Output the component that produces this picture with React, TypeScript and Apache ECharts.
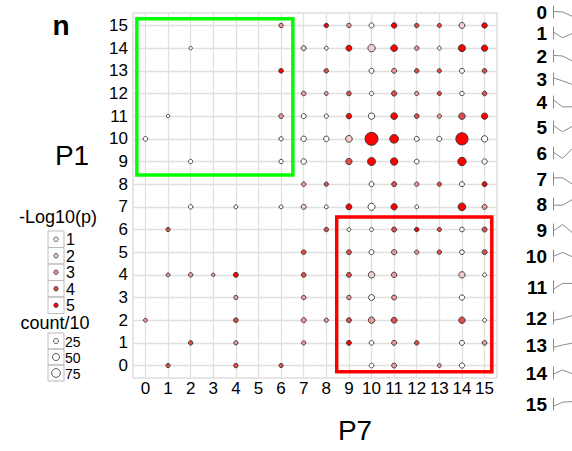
import React, { useEffect, useRef } from "react";
import * as echarts from "echarts";

// ---- data ----
const tickValues = [0, 1, 2, 3, 4, 5, 6, 7, 8, 9, 10, 11, 12, 13, 14, 15];
// each point: [P7 (x), -log10(p) level, count/10]
const row15 = [[6, 3, 20], [8, 5, 20], [9, 3, 20], [10, 1, 25], [11, 5, 30], [12, 4, 20], [13, 4, 18], [14, 2, 35], [15, 5, 30]];
const row14 = [[2, 1, 12], [7, 2, 25], [8, 1, 15], [9, 5, 35], [10, 2, 55], [11, 5, 45], [12, 3, 20], [13, 1, 15], [14, 5, 50], [15, 5, 40]];
const row13 = [[6, 5, 22], [8, 4, 20], [10, 1, 25], [11, 3, 25], [12, 4, 20], [13, 4, 18], [14, 1, 25], [15, 4, 22]];
const row12 = [[7, 3, 22], [8, 3, 15], [9, 4, 22], [10, 1, 18], [11, 4, 28], [12, 3, 18], [13, 4, 18], [14, 1, 20], [15, 4, 22]];
const row11 = [[1, 1, 12], [6, 3, 22], [7, 1, 25], [8, 1, 18], [9, 5, 30], [10, 1, 40], [11, 5, 45], [12, 4, 22], [13, 3, 18], [14, 4, 42], [15, 5, 40]];
const row10 = [[0, 1, 22], [6, 1, 18], [7, 1, 30], [8, 1, 30], [9, 2, 45], [10, 5, 169], [11, 5, 75], [12, 1, 25], [13, 1, 25], [14, 5, 150], [15, 1, 40]];
const row9 = [[2, 1, 18], [6, 1, 18], [7, 1, 30], [9, 4, 40], [10, 5, 65], [11, 5, 55], [12, 1, 22], [14, 5, 70], [15, 1, 28]];
const row8 = [[7, 3, 20], [8, 4, 18], [10, 1, 25], [11, 4, 25], [12, 3, 20], [13, 4, 18], [14, 1, 25], [15, 5, 25]];
const row7 = [[2, 1, 20], [4, 1, 15], [6, 1, 15], [7, 2, 25], [8, 1, 15], [9, 5, 35], [10, 1, 50], [11, 5, 40], [12, 1, 15], [14, 5, 60], [15, 3, 25]];
const row6 = [[1, 4, 18], [8, 4, 20], [9, 1, 15], [10, 1, 15], [11, 4, 25], [12, 5, 20], [13, 4, 18], [14, 1, 22], [15, 4, 25]];
const row5 = [[7, 4, 22], [9, 4, 25], [10, 1, 25], [11, 3, 28], [12, 3, 18], [13, 4, 20], [14, 1, 22], [15, 4, 25]];
const row4 = [[1, 3, 15], [2, 3, 20], [3, 3, 12], [4, 5, 25], [7, 4, 22], [9, 4, 25], [10, 2, 42], [11, 3, 30], [14, 2, 40], [15, 1, 15]];
const row3 = [[4, 3, 18], [7, 3, 20], [9, 3, 20], [10, 1, 35], [11, 3, 25], [14, 1, 28]];
const row2 = [[0, 3, 15], [4, 4, 22], [7, 3, 25], [8, 3, 18], [9, 4, 25], [10, 3, 42], [11, 4, 35], [14, 4, 42], [15, 1, 15]];
const row1 = [[2, 4, 20], [4, 3, 18], [7, 3, 18], [9, 5, 25], [10, 1, 22], [11, 3, 25], [12, 4, 20], [14, 1, 25], [15, 3, 22]];
const row0 = [[1, 4, 18], [4, 4, 20], [6, 4, 18], [10, 1, 22], [11, 3, 25], [13, 3, 15], [14, 1, 28]];
const rows = [row0, row1, row2, row3, row4, row5, row6, row7, row8, row9, row10, row11, row12, row13, row14, row15];

const pLevels = [1, 2, 3, 4, 5];
const countLevels = [25, 50, 75];
// highlighted boxes: [xMin, yMax, xMax, yMin]
const greenBox = [-0.38, 15.3, 6.52, 8.4];
const redBox = [8.46, 6.55, 15.32, -0.27];

// pattern icons (right side), three time points each
const iconLabels = ["0", "1", "2", "3", "4", "5", "6", "7", "8", "9", "10", "11", "12", "13", "14", "15"];
const iconValues = [
  [0.55, 0.5, 0.15], [0.6, 0.1, 0.45], [0.55, 0.5, 0.1], [0.6, 0.35, 0.05],
  [0.7, 0.1, 0.1], [0.65, 0.1, 0.55], [0.6, 0.05, 0.85], [0.6, 0.6, 0.1],
  [0.4, 0.4, 0.85], [0.4, 0.95, 0.3], [0.45, 0.8, 0.45], [0.3, 0.8, 0.8],
  [0.3, 0.45, 0.7], [0.3, 0.5, 0.65], [0.4, 0.75, 0.45], [0.3, 0.65, 0.7],
];

// ---- styles / layout ----
const pColors = ["#ffffff", "#f3cccc", "#ee9999", "#e34c4c", "#ff0000"];
const FONT = "Liberation Sans, Arial, sans-serif";
const iconCenters = [12, 33, 56, 79, 102, 127, 153, 179, 204, 230, 256, 287, 318, 345, 373, 404];
const sizeOf = (c: number) => Math.sqrt(c);

export default function App() {
  const ref = useRef<HTMLDivElement>(null);
  useEffect(() => {
    if (!ref.current) return;
    const chart = echarts.init(ref.current, null, { renderer: "svg" });

    const points: number[][] = [];
    rows.forEach((row, y) => row.forEach(([x, p, c]) => points.push([x, y, p, c])));

    const grids: any[] = [
      { left: 133, top: 13, width: 364, height: 365, show: true, borderColor: "#cccccc", borderWidth: 1, backgroundColor: "transparent" },
    ];
    const xAxes: any[] = [
      {
        type: "value", gridIndex: 0, min: -0.55, max: 15.55,
        axisLine: { show: false },
        axisTick: { show: true, customValues: tickValues, length: 4, lineStyle: { color: "#999" } },
        axisLabel: { customValues: tickValues, fontSize: 17, color: "#000", margin: 2, fontFamily: FONT },
        splitLine: { show: false },
      },
    ];
    const yAxes: any[] = [
      {
        type: "value", gridIndex: 0, min: -0.55, max: 15.55,
        axisLine: { show: false },
        axisTick: { show: true, customValues: tickValues, length: 4, lineStyle: { color: "#999" } },
        axisLabel: { customValues: tickValues, fontSize: 17, color: "#000", margin: 5, fontFamily: FONT },
        splitLine: { show: false },
      },
    ];
    const series: any[] = [
      {
        type: "scatter", xAxisIndex: 0, yAxisIndex: 0, data: [], z: 1,
        markLine: {
          silent: true, z: 1, symbol: ["none", "none"], label: { show: false },
          lineStyle: { color: "#e0e0e0", type: "solid", width: 1.3 },
          emphasis: { disabled: true },
          data: [
            ...tickValues.map((v) => ({ xAxis: v })),
            ...tickValues.map((v) => ({ yAxis: v })),
          ],
        },
      },
      {
        type: "scatter", xAxisIndex: 0, yAxisIndex: 0, z: 3, clip: false,
        data: points,
        symbolSize: (v: number[]) => sizeOf(v[3]),
        itemStyle: {
          color: (p: any) => pColors[p.data[2] - 1],
          borderColor: "#333",
          borderWidth: 0.9,
          opacity: 1,
        },
      },
      {
        type: "scatter", xAxisIndex: 0, yAxisIndex: 0, data: [], z: 5,
        markArea: {
          silent: true, z: 5,
          data: [
            [
              { coord: [greenBox[0], greenBox[1]], itemStyle: { color: "rgba(0,0,0,0)", borderColor: "#00ff00", borderWidth: 3.5 } },
              { coord: [greenBox[2], greenBox[3]] },
            ],
            [
              { coord: [redBox[0], redBox[1]], itemStyle: { color: "rgba(0,0,0,0)", borderColor: "#ff0000", borderWidth: 3.5 } },
              { coord: [redBox[2], redBox[3]] },
            ],
          ],
        },
      },
    ];

    iconValues.forEach((vals, i) => {
      const gi = i + 1;
      grids.push({ left: 553, top: iconCenters[i] - 6, width: 24, height: 12 });
      xAxes.push({ type: "value", gridIndex: gi, min: 0, max: 2, show: false });
      yAxes.push({
        type: "value", gridIndex: gi, min: 0, max: 1,
        axisLine: { show: true, lineStyle: { color: "#8a8a8a", width: 1 } },
        axisTick: { show: false }, axisLabel: { show: false }, splitLine: { show: false },
      });
      series.push({
        type: "line", xAxisIndex: gi, yAxisIndex: gi, showSymbol: false, silent: true,
        data: vals.map((v, k) => [k, v]),
        lineStyle: { color: "#8a8a8a", width: 1 },
      });
    });

    const graphic: any[] = [
      { type: "text", x: 61, y: 25, style: { text: "n", font: `bold 28px ${FONT}`, fill: "#000", textAlign: "center", textVerticalAlign: "middle" } },
      { type: "text", x: 72, y: 155, style: { text: "P1", font: `28px ${FONT}`, fill: "#000", textAlign: "center", textVerticalAlign: "middle" } },
      { type: "text", x: 355, y: 430, style: { text: "P7", font: `28px ${FONT}`, fill: "#000", textAlign: "center", textVerticalAlign: "middle" } },
      { type: "text", x: 58, y: 217, style: { text: "-Log10(p)", font: `18px ${FONT}`, fill: "#000", textAlign: "center", textVerticalAlign: "middle" } },
      { type: "text", x: 55, y: 323, style: { text: "count/10", font: `18px ${FONT}`, fill: "#000", textAlign: "center", textVerticalAlign: "middle" } },
    ];
    pLevels.forEach((p, i) => {
      const y0 = 231 + i * 16.5;
      graphic.push({ type: "rect", shape: { x: 48, y: y0, width: 16, height: 16.5 }, style: { fill: "none", stroke: "#bbbbbb", lineWidth: 1 } });
      graphic.push({ type: "circle", shape: { cx: 56, cy: y0 + 8.25, r: 2.2 }, style: { fill: pColors[i], stroke: "#333", lineWidth: 0.8 } });
      graphic.push({ type: "text", x: 66, y: y0 + 8.5, style: { text: String(p), font: `16px ${FONT}`, fill: "#000", textAlign: "left", textVerticalAlign: "middle" } });
    });
    countLevels.forEach((c, i) => {
      const y0 = 333 + i * 16;
      graphic.push({ type: "rect", shape: { x: 48, y: y0, width: 16, height: 16 }, style: { fill: "none", stroke: "#bbbbbb", lineWidth: 1 } });
      graphic.push({ type: "circle", shape: { cx: 56, cy: y0 + 8, r: sizeOf(c) / 2 }, style: { fill: "#fff", stroke: "#333", lineWidth: 0.8 } });
      graphic.push({ type: "text", x: 65, y: y0 + 8.5, style: { text: String(c), font: `14px ${FONT}`, fill: "#000", textAlign: "left", textVerticalAlign: "middle" } });
    });
    iconLabels.forEach((lab, i) => {
      graphic.push({ type: "text", x: 547, y: iconCenters[i], style: { text: lab, font: `bold 19px ${FONT}`, fill: "#000", textAlign: "right", textVerticalAlign: "middle" } });
    });

    chart.setOption({
      animation: false,
      backgroundColor: "#ffffff",
      grid: grids,
      xAxis: xAxes,
      yAxis: yAxes,
      series,
      graphic,
    });
    return () => chart.dispose();
  }, []);
  return <div ref={ref} style={{ width: 572, height: 451, position: "absolute", left: 0, top: 0 }} />;
}
